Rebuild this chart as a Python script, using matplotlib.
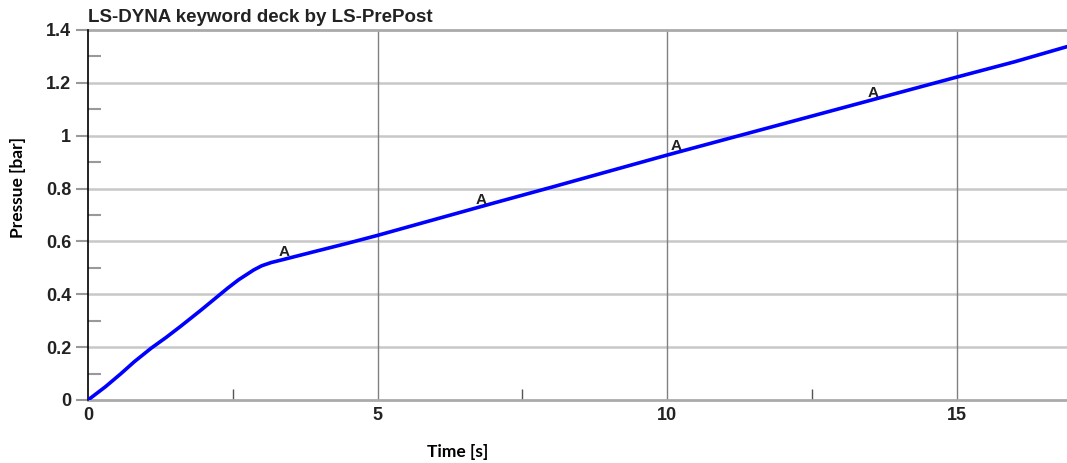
import numpy as np
import matplotlib.pyplot as plt
from matplotlib.ticker import MultipleLocator

# pressure curve
time = [0.0, 0.3, 0.57, 0.8, 1.09, 1.35, 1.6, 1.95, 2.41, 2.6, 2.86, 3.0, 3.16, 3.38,
        3.9, 4.48, 5.0, 6.0, 7.0, 8.0, 9.0, 10.0, 11.0, 12.0, 13.0, 14.0, 15.0, 16.0, 16.9]
pressure = [0.0, 0.05, 0.10, 0.145, 0.196, 0.237, 0.279, 0.34, 0.423, 0.455, 0.492, 0.508, 0.52, 0.532,
            0.561, 0.593, 0.623, 0.684, 0.745, 0.805, 0.866, 0.927, 0.986, 1.045, 1.104, 1.163,
            1.222, 1.280, 1.337]

# "A" curve labels
marker_t = [3.38, 6.78, 10.15, 13.55]
marker_p = [0.532, 0.731, 0.936, 1.137]

title = 'LS-DYNA keyword deck by LS-PrePost'

fig = plt.figure(figsize=(10.67, 4.63), dpi=100)
ax = fig.add_axes([88/1067, 63/463, 1 - 88/1067, 370/463])

ax.plot(time, pressure, color='#0000ff', lw=2.6, solid_capstyle='round', zorder=3)
for t, p in zip(marker_t, marker_p):
    ax.text(t, p + 0.0, 'A', ha='center', va='bottom', fontsize=11, fontweight='bold',
            family='Liberation Sans', color='#222222', zorder=4)

ax.set_xlim(0, 16.9)
ax.set_ylim(0, 1.4)
ax.xaxis.set_minor_locator(MultipleLocator(2.5))
ax.yaxis.set_minor_locator(MultipleLocator(0.1))

ax.set_xticks([0, 5, 10, 15])
ax.set_xticklabels(['0', '5', '10', '15'])
ax.set_yticks([0, 0.2, 0.4, 0.6, 0.8, 1.0, 1.2, 1.4])
ax.set_yticklabels(['0', '0.2', '0.4', '0.6', '0.8', '1', '1.2', '1.4'])

for lab in ax.get_xticklabels() + ax.get_yticklabels():
    lab.set_family('Liberation Sans')
    lab.set_fontweight('bold')
    lab.set_fontsize(13)
    lab.set_color('#222222')

ax.tick_params(axis='y', which='major', direction='out', length=9, width=1.5, color='#999999', pad=3)
ax.tick_params(axis='y', which='minor', direction='in', length=9, width=1.5, color='#999999')
ax.tick_params(axis='x', which='major', length=0, pad=5)
ax.tick_params(axis='x', which='minor', direction='in', length=8, width=1, color='#555555')

for y in [0.2, 0.4, 0.6, 0.8, 1.0, 1.2]:
    ax.axhline(y, color='#c8c8c8', lw=1.8, zorder=1)
ax.axhline(0, color='#aaaaaa', lw=2, zorder=2, clip_on=False)
ax.axhline(1.4, color='#aaaaaa', lw=2, zorder=2, clip_on=False)
for x in [5, 10, 15]:
    ax.axvline(x, color='#808080', lw=1, zorder=1)

for s in ['top', 'right', 'bottom']:
    ax.spines[s].set_visible(False)
ax.spines['left'].set_color('black')
ax.spines['left'].set_linewidth(1.2)

fig.text(458/1067, 1 - 452/463, 'Time [s]', ha='center', va='center',
         family='Lato', fontweight='bold', fontsize=12.5, color='black')
fig.text(18/1067, 1 - 188/463, 'Pressue [bar]', ha='center', va='center', rotation=90,
         family='Lato', fontweight='bold', fontsize=12.5, color='black')
ax.text(0, 1.415, title, transform=ax.transData, ha='left', va='bottom',
        family='Liberation Sans', fontweight='bold', fontsize=13.5, color='#222222')

fig.savefig('out.png', dpi=100)
